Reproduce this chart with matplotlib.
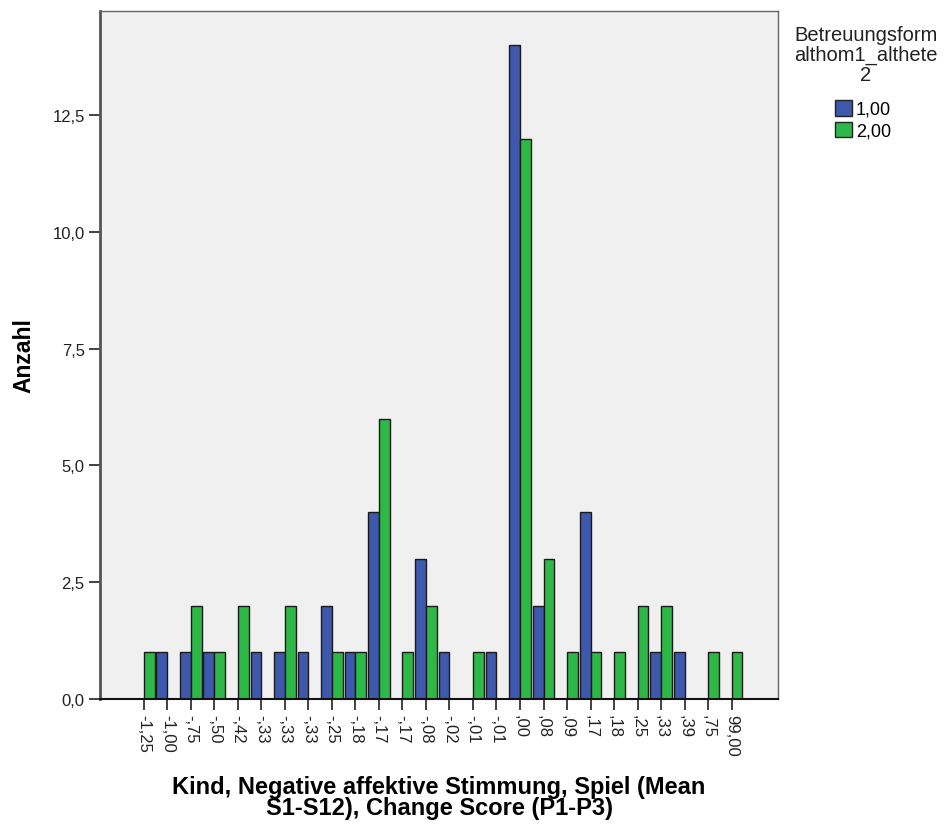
import matplotlib.pyplot as plt
import matplotlib.patches as mpatches
import numpy as np

plt.rcParams['font.family'] = ['Liberation Sans', 'DejaVu Sans']

categories = ["-1,25", "-1,00", "-,75", "-,50", "-,42", "-,33", "-,33", "-,33",
              "-,25", "-,18", "-,17", "-,17", "-,08", "-,02", "-,01", "-,01",
              ",00", ",08", ",09", ",17", ",18", ",25", ",33", ",39", ",75", "99,00"]
group1 = [0, 1, 1, 1, 0, 1, 1, 1, 2, 1, 4, 0, 3, 1, 0, 1, 14, 2, 0, 4, 0, 0, 1, 1, 0, 0]
group2 = [1, 0, 2, 1, 2, 0, 2, 0, 1, 1, 6, 1, 2, 0, 1, 0, 12, 3, 1, 1, 1, 2, 2, 0, 1, 1]
series_names = ["1,00", "2,00"]
yticks = [0, 2.5, 5, 7.5, 10, 12.5]
ytick_labels = ["0,0", "2,5", "5,0", "7,5", "10,0", "12,5"]

blue = "#3E58AC"
green = "#2EB848"

fig = plt.figure(figsize=(9.47, 8.29), dpi=100)
ax = fig.add_axes([100 / 947, 1 - 700 / 829, 678 / 947, 688 / 829])
ax.set_facecolor("#F0F0F0")

x = np.arange(len(categories))
w = 0.46
b1 = np.array(group1)
b2 = np.array(group2)
# zero counts are not drawn
ax.bar(x[b1 > 0] - w / 2, b1[b1 > 0], width=w, color=blue, edgecolor="#1a1a1a", linewidth=1)
ax.bar(x[b2 > 0] + w / 2, b2[b2 > 0], width=w, color=green, edgecolor="#1a1a1a", linewidth=1)

ax.set_xlim(-1.86, len(categories) - 1 + 1.97)
ax.set_ylim(0, 14.73)
ax.set_xticks(x)
ax.set_xticklabels(categories, rotation=270, fontsize=12, color="#222222")
ax.set_yticks(yticks)
ax.set_yticklabels(ytick_labels, fontsize=12, color="#222222")
ax.tick_params(axis="both", direction="out", length=8, width=1.2, color="#222222", pad=3)

for side in ["top", "right"]:
    ax.spines[side].set_color("#666666")
    ax.spines[side].set_linewidth(1)
ax.spines["left"].set_color("#555555")
ax.spines["left"].set_linewidth(2)
ax.spines["bottom"].set_color("#111111")
ax.spines["bottom"].set_linewidth(1.5)

ax.set_ylabel("Anzahl", fontsize=16.5, fontweight="bold", labelpad=12)
ax.set_xlabel("Kind, Negative affektive Stimmung, Spiel (Mean\nS1-S12), Change Score (P1-P3)",
              fontsize=17, fontweight="bold", labelpad=14, linespacing=0.85)

fig.text(866 / 947, 1 - 26 / 829, "Betreuungsform\nalthom1_althete\n2", ha="center", va="top",
         fontsize=14.5, linespacing=1.07, color="#222222")

handles = [mpatches.Patch(facecolor=blue, edgecolor="#222222", label=series_names[0]),
           mpatches.Patch(facecolor=green, edgecolor="#222222", label=series_names[1])]
fig.legend(handles=handles, loc="upper left", bbox_to_anchor=(835 / 947, 1 - 101 / 829),
           frameon=False, fontsize=13, handlelength=0.95, handleheight=0.95,
           handletextpad=0.2, labelspacing=0.2, borderpad=0.0, borderaxespad=0.0)

fig.savefig("out.png", dpi=100)
